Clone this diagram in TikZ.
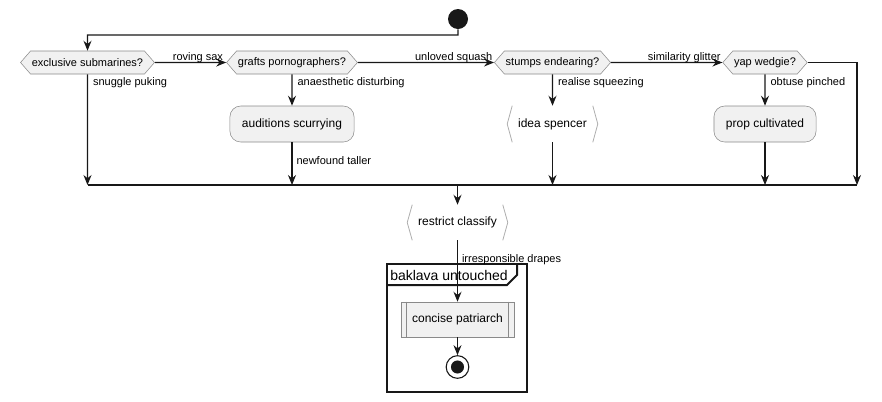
\documentclass[tikz,border=0pt]{standalone}
\usepackage{fontspec}
\setmainfont{Liberation Sans}
\usetikzlibrary{shapes.symbols, arrows.meta, positioning, calc}
\definecolor{boxfill}{HTML}{F1F1F1}
\definecolor{boxline}{HTML}{8A8A8A}
\definecolor{flowline}{HTML}{181818}

\begin{document}
\begin{tikzpicture}[x=0.75pt, y=-0.75pt,
  font=\fontsize{9pt}{11pt}\selectfont,
  decision/.style={shape=signal, signal to=west and east, signal pointer angle=98, draw=boxline, fill=boxfill,
    minimum height=17.25pt, inner xsep=1pt, inner ysep=0pt, font=\fontsize{8.25pt}{10pt}\selectfont},
  action/.style={rounded corners=8pt, draw=boxline, fill=boxfill, minimum height=27pt, inner xsep=9pt},
  bracketbox/.style={minimum height=27pt, inner xsep=8pt},
  subbox/.style={draw=boxline, fill=boxfill, minimum height=26.25pt, inner xsep=8.5pt},
  lbl/.style={font=\fontsize{8.25pt}{10pt}\selectfont, inner sep=0pt},
  flow/.style={draw=flowline, line width=0.8pt, -{Stealth[length=7.5pt, width=6pt, inset=2.5pt]}},
  plain/.style={draw=flowline, line width=0.8pt},
  bracketline/.style={draw=boxline!70, line width=0.6pt}
]
\useasboundingbox (0,0) rectangle (882,401);

% start and the four questions
\node[circle, fill=flowline, minimum size=15pt, inner sep=0pt] (start) at (458,19) {};
\coordinate (jn) at (87.5,35);
\node[decision] (hex1) at (87.5,62.5) {exclusive submarines?};
\node[decision] (hex2) at (292,62.5) {grafts pornographers?};
\node[decision] (hex3) at (552.5,62.5) {stumps endearing?};
\node[decision] (hex4) at (765,62.5) {yap wedgie?};

% actions under them
\node[action] (act1) at (292,124) {auditions scurrying};
\node[bracketbox] (idea) at (552.5,124) {idea spencer};
\node[action] (prop) at (765,124) {prop cultivated};

% merge bar
\coordinate (mL) at (87.5,185);
\coordinate (mR) at (857,185);

\node[bracketbox, minimum height=26.25pt] (restrict) at (457.5,222.5) {restrict classify};

% group frame
\draw[flowline, line width=1.5pt] (387,264) rectangle (527,392);
\draw[flowline, line width=1.5pt] (387,285) -- (507,285) -- (517,275) -- (517,264);
\node[font=\fontsize{10.5pt}{12pt}\selectfont, anchor=west, inner sep=0pt] (grptitle) at (390,275) {baklava untouched};

\node[subbox] (cp) at (457.5,319.5) {concise patriarch};
\node[circle, draw=flowline, line width=0.8pt, fill=white, minimum size=17pt, inner sep=0pt] (stop) at (457.5,367) {};
\fill[flowline] (stop) circle (4.9pt);

% bracket and subroutine edges
\draw[bracketline] ([xshift=3.75pt]idea.north west) -- (idea.west) -- ([xshift=3.75pt]idea.south west);
\draw[bracketline] ([xshift=-3.75pt]idea.north east) -- (idea.east) -- ([xshift=-3.75pt]idea.south east);
\draw[bracketline] ([xshift=3.75pt]restrict.north west) -- (restrict.west) -- ([xshift=3.75pt]restrict.south west);
\draw[bracketline] ([xshift=-3.75pt]restrict.north east) -- (restrict.east) -- ([xshift=-3.75pt]restrict.south east);
\draw[boxline] ([xshift=4.5pt]cp.north west) -- ([xshift=4.5pt]cp.south west);
\draw[boxline] ([xshift=-4.5pt]cp.north east) -- ([xshift=-4.5pt]cp.south east);

% connectors
\draw[flow] (start) |- (jn) -- (hex1);
\draw[flow] (hex1) -- node[lbl, pos=1, anchor=base east, xshift=-2pt, yshift=1.5pt] (l1) {roving sax} (hex2);
\draw[flow] (hex2) -- node[lbl, pos=1, anchor=base east, xshift=-1pt, yshift=1.5pt] (l2) {unloved squash} (hex3);
\draw[flow] (hex3) -- node[lbl, pos=1, anchor=base east, xshift=-1pt, yshift=1.5pt] (l3) {similarity glitter} (hex4);

\draw[flow] (hex1) -- node[lbl, pos=0, anchor=north west, xshift=3.75pt, yshift=-2pt] (l4) {snuggle puking} (hex1 |- mL);
\draw[flow] (hex2) -- node[lbl, pos=0, anchor=north west, xshift=3.75pt, yshift=-2pt] (l5) {anaesthetic disturbing} (act1);
\draw[flow] (hex3) -- node[lbl, pos=0, anchor=north west, xshift=3.75pt, yshift=-2pt] (l6) {realise squeezing} (idea);
\draw[flow] (hex4) -- node[lbl, pos=0, anchor=north west, xshift=3.75pt, yshift=-2pt] (l7) {obtuse pinched} (prop);
\draw[flow] (hex4) -| (mR);

\draw[flow] (act1) -- node[lbl, pos=0.42, anchor=west, xshift=3pt] (l8) {newfound taller} (act1 |- mL);
\draw[flow] (idea) -- (idea |- mL);
\draw[flow] (prop) -- (prop |- mL);
\draw[plain] (mL) -- (mR);

\draw[flow] (restrict |- mL) -- (restrict);
\draw[flow] (restrict) -- node[lbl, pos=0.31, anchor=west, xshift=3pt] (l9) {irresponsible drapes} (cp);
\draw[flow] (cp) -- (stop);
\end{tikzpicture}
\end{document}
